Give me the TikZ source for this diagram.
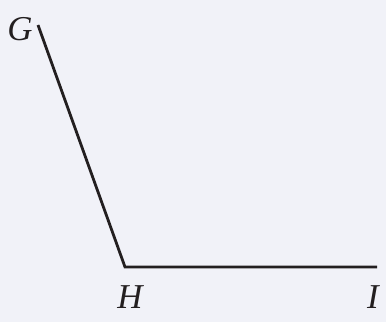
\documentclass[tikz,border=0pt]{standalone}
\usepackage{fontspec}
\setmainfont{Liberation Serif}
\definecolor{bgcol}{HTML}{F1F2F8}
\definecolor{linecol}{HTML}{231F20}
\begin{document}
\begin{tikzpicture}[x=1bp,y=1bp,
  seg/.style={draw=linecol,line width=2.8bp,line join=miter},
  lbl/.style={inner sep=0pt,text=linecol,font=\fontsize{35}{40}\selectfont\itshape}]
\fill[bgcol] (0,0) rectangle (386,322);
\useasboundingbox (0,0) rectangle (386,322);
\coordinate (G) at (38,297);
\coordinate (H) at (125,55);
\coordinate (I) at (377,55);
\draw[seg] (G) -- (H) -- (I);
\node[lbl] (gl) at (20,293) {G};
\node[lbl] (hl) at (130,25) {H};
\node[lbl] (il) at (373,25) {I};
\end{tikzpicture}
\end{document}
